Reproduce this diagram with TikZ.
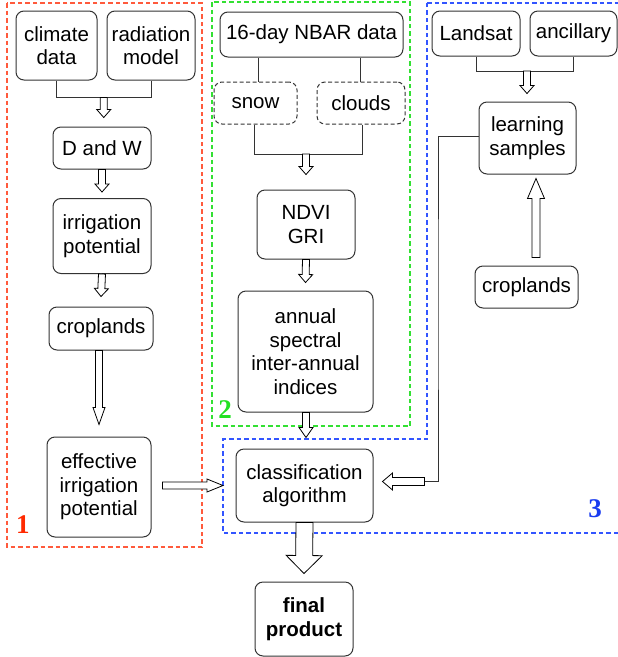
\documentclass[tikz,border=0pt]{standalone}
\usepackage{fontspec}
\setmainfont{Liberation Sans}
\newfontfamily\numfont{Liberation Serif}
\usetikzlibrary{calc}
\definecolor{redgrp}{HTML}{FF5A3C}
\definecolor{greengrp}{HTML}{33E033}
\definecolor{bluegrp}{HTML}{3355FF}
\definecolor{rednum}{HTML}{FF2A00}
\definecolor{greennum}{HTML}{22E022}
\definecolor{bluenum}{HTML}{1A3CF0}
\definecolor{edge}{HTML}{333333}
\newcommand\hollowarr[5]{% start, tip, half shaft, half head, head length
  \coordinate (hb) at ($(#2)!#5!(#1)$);
  \draw[harrow] ($(#1)!#3!90:(#2)$) -- ($(hb)!#3!90:(#2)$) -- ($(hb)!#4!90:(#2)$) -- (#2)
    -- ($(hb)!#4!-90:(#2)$) -- ($(hb)!#3!-90:(#2)$) -- ($(#1)!#3!-90:(#2)$) -- cycle;}
\begin{document}
\begin{tikzpicture}[x=1pt,y=-1pt,
  box/.style={draw=edge, line width=1pt, rounded corners=8pt, align=center, inner sep=0pt,
    font=\fontsize{20.5}{23.5}\selectfont},
  dbox/.style={box, dash pattern=on 4pt off 2.5pt},
  conn/.style={draw=edge, line width=0.8pt},
  harrow/.style={draw=black, line width=0.8pt, fill=white, line join=miter},
  grp/.style={line width=1.1pt, dash pattern=on 4.5pt off 3pt},
  num/.style={font=\numfont\bfseries\fontsize{27}{27}\selectfont, inner sep=0pt}]
\useasboundingbox (0,0) rectangle (618,657);

% group frames
\draw[grp, draw=redgrp] (7,3) rectangle (202,547);
\draw[grp, draw=greengrp] (212,2) rectangle (410,426);
\draw[grp, draw=bluegrp] (427,3) -- (640,3) -- (640,533) -- (223,533) -- (223,439) -- (427,439) -- cycle;
\node[num, text=rednum] (n1) at (23,525) {1};
\node[num, text=greennum] (n2) at (225,410) {2};
\node[num, text=bluenum] (n3) at (595,509) {3};

% group 1
\node[box, minimum width=81pt, minimum height=69pt] (climate) at (56.5,45.5) {climate\\data};
\node[box, minimum width=88pt, minimum height=69pt] (radiation) at (151,45.5) {radiation\\model};
\node[box, minimum width=98pt, minimum height=42pt] (dw) at (102,148) {D and W};
\node[box, minimum width=98pt, minimum height=75pt] (irrig) at (102,236) {irrigation\\potential};
\node[box, minimum width=104pt, minimum height=43pt] (crop1) at (101,328.5) {croplands};
\node[box, minimum width=104pt, minimum height=100pt] (eff) at (99,487) {effective\\irrigation\\potential};

% group 2
\node[box, minimum width=183pt, minimum height=45pt] (nbar) at (311.5,34.5) {16-day NBAR data};
\node[dbox, minimum width=83pt, minimum height=42pt] (snow) at (255.5,103) {snow};
\node[dbox, minimum width=88pt, minimum height=42pt] (clouds) at (361,103) {clouds};
\node[box, minimum width=98pt, minimum height=69pt] (ndvi) at (306,224.5) {NDVI\\GRI};
\node[box, minimum width=135pt, minimum height=121pt] (annual) at (305.5,351.5) {annual\\spectral\\inter-annual\\indices};

% group 3
\node[box, minimum width=88pt, minimum height=45pt] (landsat) at (476,33.5) {Landsat};
\node[box, minimum width=87pt, minimum height=45pt] (ancillary) at (573.5,33.5) {ancillary};
\node[box, minimum width=97pt, minimum height=72pt] (learning) at (527.5,138) {learning\\samples};
\node[box, minimum width=103pt, minimum height=42pt] (crop3) at (526.5,287) {croplands};
\node[box, minimum width=137pt, minimum height=73pt] (class) at (304.5,485.5) {classification\\algorithm};
\node[box, minimum width=98pt, minimum height=74pt, font=\fontsize{20.5}{23.5}\selectfont\bfseries] (final) at (304,619) {final\\product};

% connectors group 1
\draw[conn] (climate.south) -- ++(0,17) -| (radiation.south);
\coordinate (j1) at ($(climate.south)!0.5!(radiation.south)+(0,17)$);
\hollowarr{j1}{$(j1 |- dw.north)+(0,-9)$}{3.5pt}{7pt}{8pt}
\hollowarr{dw.south}{$(irrig.north)+(0,-6)$}{3.5pt}{7pt}{8pt}
\hollowarr{irrig.south}{$(crop1.north)+(0,-10)$}{3.5pt}{7pt}{8pt}
\coordinate (a4s) at ($(crop1.south)+(-2,0)$);
\hollowarr{a4s}{$(a4s |- eff.north)+(0,-12)$}{3.5pt}{6pt}{17pt}
\coordinate (a5s) at ($(eff.east)+(11,-1.5)$);
\coordinate (b3w) at (223,485.5);
\hollowarr{a5s}{b3w}{3.5pt}{6.5pt}{16pt}

% connectors group 2
\draw[conn] (snow.north -| 258,0) -- (nbar.south -| 258,0);
\draw[conn] (clouds.north -| 360,0) -- (nbar.south -| 360,0);
\draw[conn] (snow.south -| 254,0) -- ++(0,30) -| (clouds.south -| 362,0);
\coordinate (j2) at (306,154);
\hollowarr{j2}{$(j2 |- ndvi.north)+(0,-15)$}{3.5pt}{7pt}{8pt}
\hollowarr{ndvi.south}{$(annual.north)+(0,-8)$}{3.5pt}{7pt}{8pt}
\coordinate (a8s) at ($(annual.south)+(0.5,0)$);
\hollowarr{a8s}{$(a8s |- class.north)+(0,-11)$}{3.5pt}{7pt}{10pt}

% connectors group 3
\draw[conn] (landsat.south) -- ++(0,15) -| (ancillary.south);
\coordinate (j3) at (527,71);
\hollowarr{j3}{$(j3 |- learning.north)+(0,-8)$}{3.5pt}{7pt}{8pt}
\hollowarr{$(crop3.north)+(9.5,-8)$}{$(learning.south)+(8.5,4)$}{4pt}{8.5pt}{20pt}
\coordinate (a11s) at ($(class.east)+(51,-4)$);
\draw[conn] (learning.west |- 0,136) -| (438,300) |- (a11s);
\hollowarr{a11s}{$(class.east)+(9,-4)$}{4pt}{8.5pt}{10pt}
\hollowarr{class.south}{$(final.north)+(0,-8)$}{8.5pt}{18pt}{18pt}
\end{tikzpicture}
\end{document}
